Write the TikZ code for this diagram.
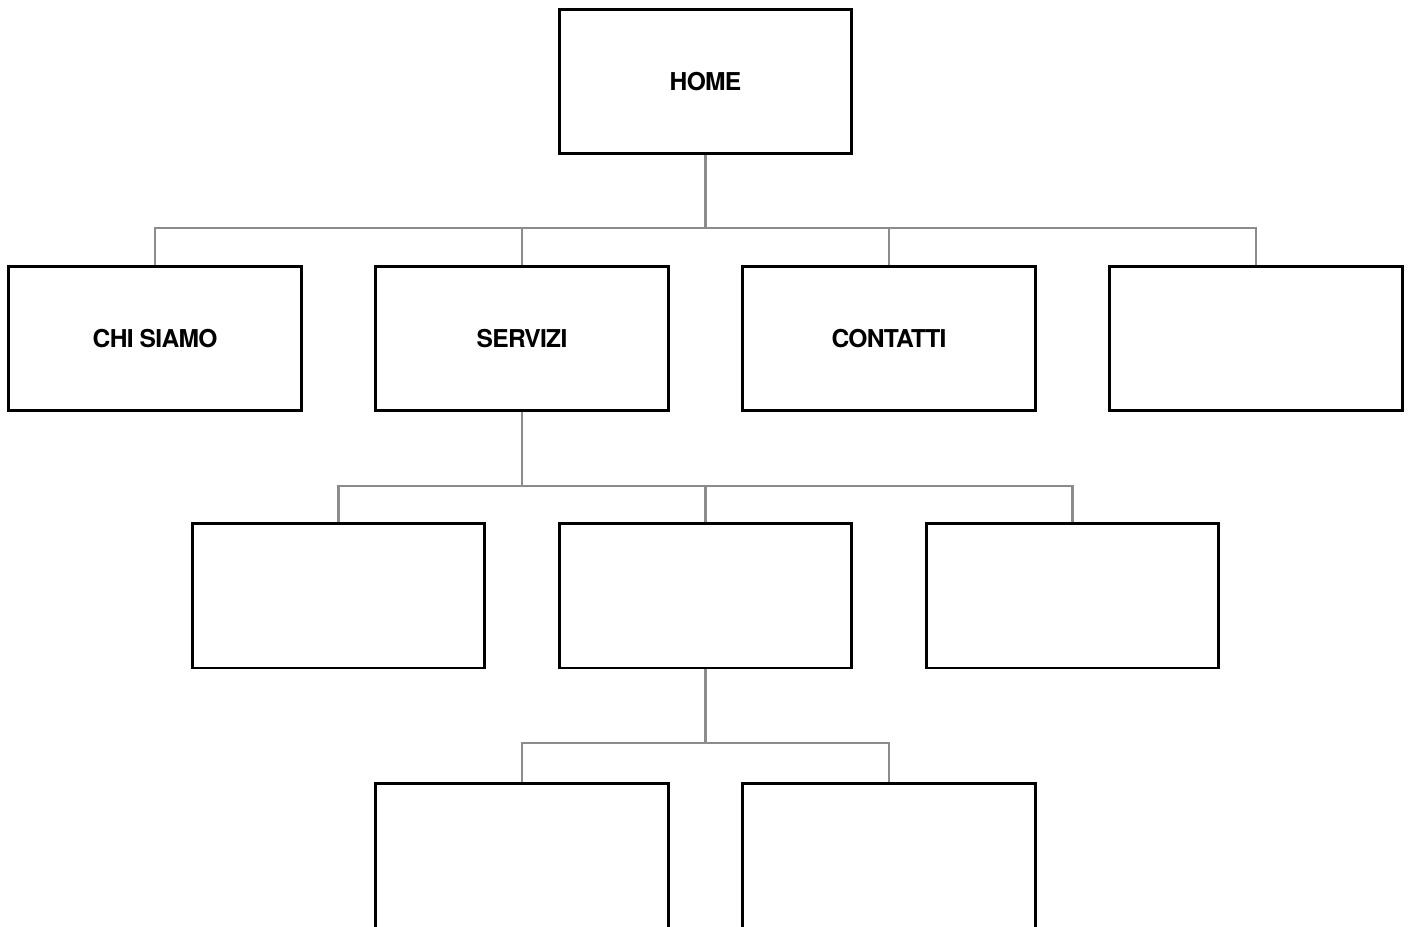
\documentclass[tikz,border=0pt]{standalone}
\usepackage{fontspec}
\setsansfont{TeX Gyre Heros}[LetterSpace=-3]
\usepackage{tikz}
\usetikzlibrary{backgrounds}
\definecolor{link}{gray}{0.55}

\begin{document}
\begin{tikzpicture}[x=0.02cm, y=-0.02cm,
  page/.style={draw=black, line width=1.7pt, rectangle, minimum width=5.86cm,
    minimum height=2.9cm, inner sep=0pt, fill=white,
    font=\sffamily\bfseries\fontsize{14}{16}\selectfont},
  link/.style={draw=link, line width=1.3pt}]
  \useasboundingbox (0, 0) rectangle (1411, 927);

  % Home
  \node [page] (home) at (705.5, 81.5) {HOME};

  % First level
  \node [page] (chi) at (155, 338.5) {CHI SIAMO};
  \node [page] (servizi) at (522, 338.5) {SERVIZI};
  \node [page] (contatti) at (889, 338.5) {CONTATTI};
  \node [page] (extra) at (1256, 338.5) {};

  % Second level
  \node [page] (subA) at (338.5, 595.5) {};
  \node [page] (subB) at (705.5, 595.5) {};
  \node [page] (subC) at (1072.5, 595.5) {};

  % Third level
  \node [page] (subBA) at (522, 856) {};
  \node [page] (subBB) at (889, 856) {};

  % Links
  \coordinate (busHome) at (705.5, 228);
  \coordinate (busServizi) at (522, 486);
  \coordinate (busSub) at (705.5, 743);

  \begin{scope}[on background layer]
    \draw [link] (home.south) -- (busHome) -| (chi.north);
    \draw [link] (busHome) -| (servizi.north);
    \draw [link] (busHome) -| (contatti.north);
    \draw [link] (busHome) -| (extra.north);

    \draw [link] (servizi.south) -- (busServizi) -| (subA.north);
    \draw [link] (busServizi) -| (subB.north);
    \draw [link] (busServizi) -| (subC.north);

    \draw [link] (subB.south) -- (busSub) -| (subBA.north);
    \draw [link] (busSub) -| (subBB.north);
  \end{scope}
\end{tikzpicture}
\end{document}
